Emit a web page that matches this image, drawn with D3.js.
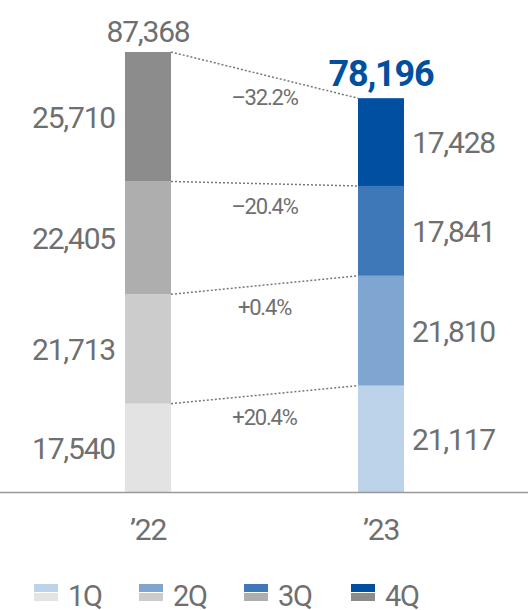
<!DOCTYPE html>
<html><head><meta charset="utf-8">
<script src="https://cdn.jsdelivr.net/npm/d3@7"></script>
<style>body{margin:0;background:#fff}text{font-family:"Roboto",sans-serif;letter-spacing:-1.2px}</style>
</head><body><svg id="c" width="528" height="610"></svg>
<script>
const years = ["’22", "’23"];
const quarters = ["1Q", "2Q", "3Q", "4Q"];
const v22 = [17540, 21713, 22405, 25710];
const v23 = [21117, 21810, 17841, 17428];
const totals = [87368, 78196];
const changes = ["+20.4%", "+0.4%", "–20.4%", "–32.2%"];
const grays = ["#e3e3e3", "#cccccc", "#aeaeae", "#8c8c8c"];
const blues = ["#bcd3e9", "#7fa6d1", "#3f78b9", "#004fa0"];

const svg = d3.select("#c");
const y = d3.scaleLinear().domain([0, 87368]).range([492, 52]);
const x = d3.scaleBand().domain(years).range([125, 404]).paddingInner(0.8026).paddingOuter(0);
const fmt = d3.format(",");
const txt = "#6f6f6f";

function stack(vals) { let c = 0; return vals.map(v => { const s = { y0: c, y1: c + v, v }; c += v; return s; }); }
const s22 = stack(v22), s23 = stack(v23);

[[s22, grays, years[0]], [s23, blues, years[1]]].forEach(([st, cols, yr]) => {
  svg.selectAll(null).data(st).enter().append("rect")
    .attr("x", x(yr)).attr("width", x.bandwidth())
    .attr("y", d => y(d.y1)).attr("height", d => y(d.y0) - y(d.y1))
    .attr("fill", (d, i) => cols[i]);
});

// connectors
s22.forEach((d, i) => {
  svg.append("line").attr("x1", x(years[0]) + x.bandwidth()).attr("y1", y(d.y1))
    .attr("x2", x(years[1])).attr("y2", y(s23[i].y1))
    .attr("stroke", "#777").attr("stroke-width", 1.5).attr("stroke-dasharray", "2,2");
  const my = (y(d.y1) + y(s23[i].y1)) / 2;
  svg.append("text").attr("x", (x(years[0]) + x.bandwidth() + x(years[1])) / 2).attr("y", my + 30)
    .attr("text-anchor", "middle").attr("font-size", 22).attr("fill", txt).text(changes[i]);
});

svg.selectAll(null).data(s22).enter().append("text")
  .attr("x", x(years[0]) - 10).attr("y", d => (y(d.y0) + y(d.y1)) / 2 + 11)
  .attr("text-anchor", "end").attr("font-size", 30).attr("fill", txt).text(d => fmt(d.v));
svg.selectAll(null).data(s23).enter().append("text")
  .attr("x", x(years[1]) + x.bandwidth() + 8).attr("y", d => (y(d.y0) + y(d.y1)) / 2 + 11)
  .attr("text-anchor", "start").attr("font-size", 30).attr("fill", txt).text(d => fmt(d.v));

svg.append("text").attr("x", x(years[0]) + x.bandwidth() / 2).attr("y", y(totals[0]) - 10)
  .attr("text-anchor", "middle").attr("font-size", 30).attr("fill", txt).text(fmt(totals[0]));
svg.append("text").attr("x", x(years[1]) + x.bandwidth() / 2).attr("y", y(totals[1]) - 12)
  .attr("text-anchor", "middle").attr("font-size", 36).attr("font-weight", "bold").attr("fill", "#0050a0").text(fmt(totals[1]));

svg.append("line").attr("x1", 0).attr("x2", 528).attr("y1", 492.5).attr("y2", 492.5).attr("stroke", "#999").attr("stroke-width", 1.5);
svg.selectAll(null).data(years).enter().append("text")
  .attr("x", d => x(d) + x.bandwidth() / 2).attr("y", 540).attr("text-anchor", "middle")
  .attr("font-size", 30).attr("fill", txt).text(d => d);

// legend
const lx = [34, 139, 244, 351];
quarters.forEach((q, i) => {
  svg.append("rect").attr("x", lx[i]).attr("y", 584).attr("width", 24).attr("height", 8).attr("fill", blues[i]);
  svg.append("rect").attr("x", lx[i]).attr("y", 593).attr("width", 24).attr("height", 8).attr("fill", grays[i]);
  svg.append("text").attr("x", lx[i] + 34).attr("y", 606).attr("font-size", 29).attr("fill", txt).text(q);
});
</script></body></html>
